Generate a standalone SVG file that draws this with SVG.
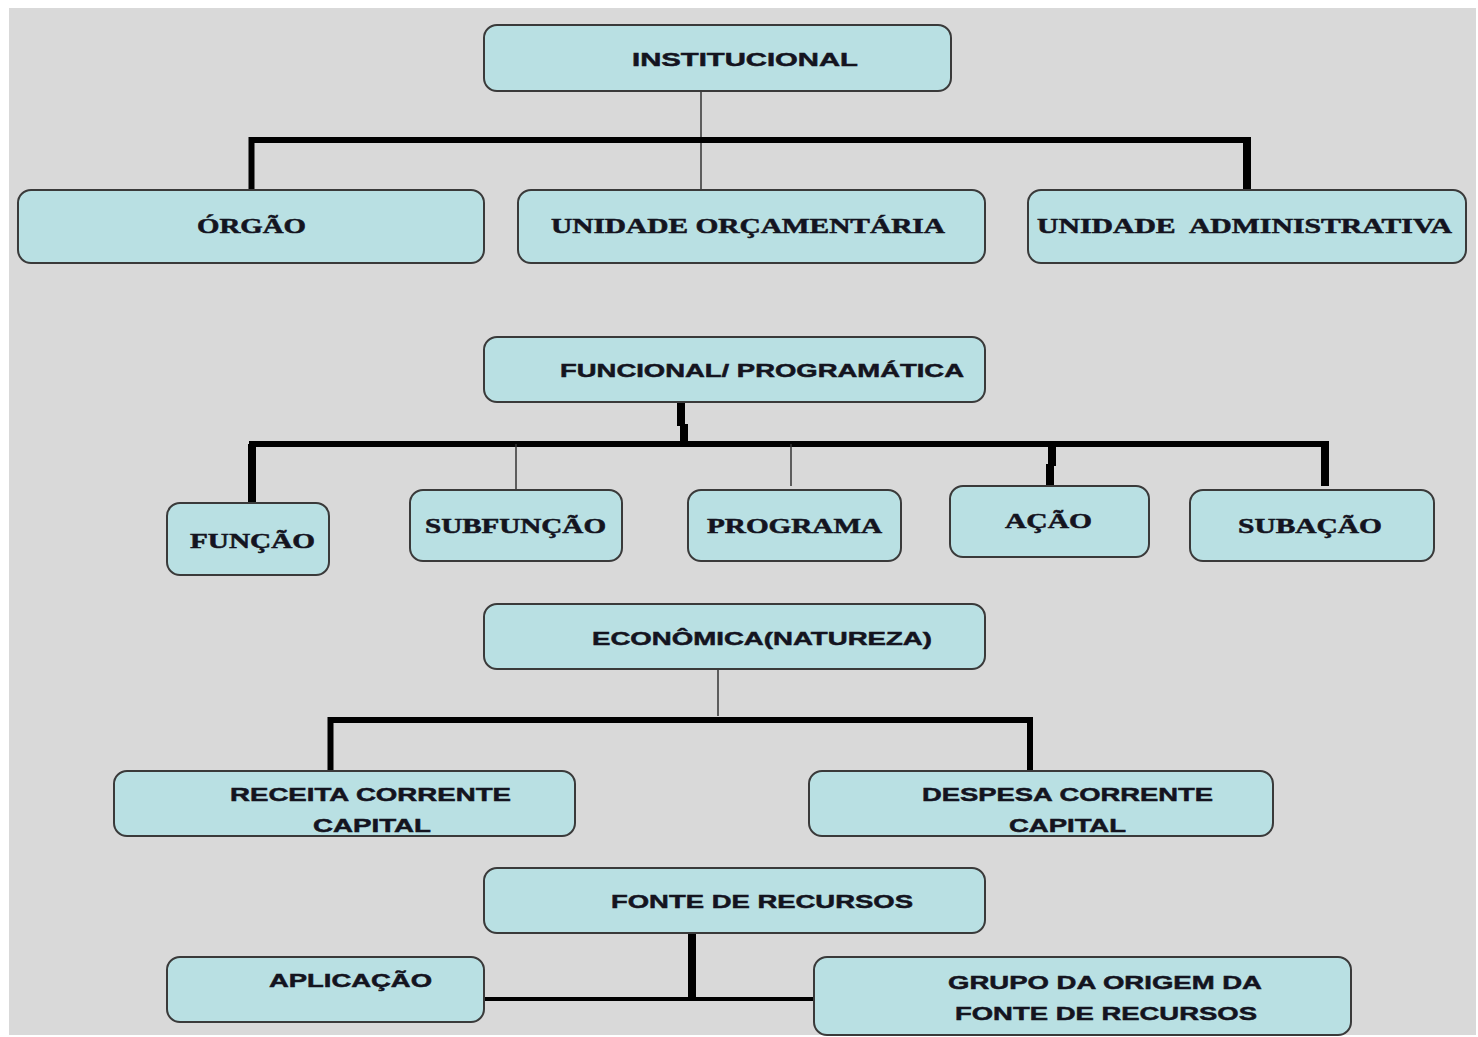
<svg xmlns="http://www.w3.org/2000/svg" width="1478" height="1037" viewBox="0 0 1478 1037">
  <style>
    .box { fill: #b9e0e3; stroke: #3a3a3a; stroke-width: 2; }
    .sans { font-family: "Liberation Sans", Arial, sans-serif; font-weight: bold; font-size: 19px; fill: #14141f; stroke: #14141f; stroke-width: 0.5; }
    .serif { font-family: "Liberation Serif", "Times New Roman", serif; font-weight: bold; font-size: 20px; fill: #14141f; stroke: #14141f; stroke-width: 0.5; }
    .thick { stroke: #000; stroke-width: 8; fill: none; }
    .mid { stroke: #000; stroke-width: 6; fill: none; }
    .thin { stroke: #333; stroke-width: 1.5; fill: none; }
  </style>

  <rect x="0" y="0" width="1478" height="1037" fill="#ffffff"/>
  <rect x="9" y="8" width="1467" height="1027" fill="#d9d9d9"/>

  <!-- connectors -->
  <g id="connectors">
    <!-- institucional -->
    <line class="thin" x1="701" y1="91" x2="701" y2="190"/>
    <path class="mid" d="M251.5 190 V140 H1247"/>
    <path class="thick" d="M1247 137 V190"/>
    <!-- funcional / programática -->
    <path class="thick" d="M681 402 V426"/>
    <path class="thick" d="M684 424 V444"/>
    <path class="mid" d="M249 444 H1329"/>
    <path class="thick" d="M252 444 V503"/>
    <line class="thin" x1="516" y1="444" x2="516" y2="490"/>
    <line class="thin" x1="791" y1="444" x2="791" y2="486"/>
    <path class="thick" d="M1052 444 V466"/>
    <path class="thick" d="M1050 464 V486"/>
    <path class="thick" d="M1325 444 V486"/>
    <!-- econômica -->
    <line class="thin" x1="718" y1="669" x2="718" y2="716"/>
    <path class="mid" d="M330.5 771 V720 H1030 V771"/>
    <!-- fonte de recursos -->
    <path class="thick" d="M692 933 V1000"/>
    <line x1="484" y1="999" x2="814" y2="999" stroke="#000" stroke-width="4"/>
  </g>

  <!-- institucional level -->
  <g id="institucional">
    <rect class="box" x="484" y="25" width="467" height="66" rx="13"/>
    <text class="sans" x="632" y="66" textLength="226" lengthAdjust="spacingAndGlyphs">INSTITUCIONAL</text>
  </g>
  <g id="orgao">
    <rect class="box" x="18" y="190" width="466" height="73" rx="13"/>
    <text class="serif" x="197" y="233" textLength="109" lengthAdjust="spacingAndGlyphs">ÓRGÃO</text>
  </g>
  <g id="unidade-orcamentaria">
    <rect class="box" x="518" y="190" width="467" height="73" rx="13"/>
    <text class="serif" x="551" y="233" textLength="394" lengthAdjust="spacingAndGlyphs">UNIDADE ORÇAMENTÁRIA</text>
  </g>
  <g id="unidade-administrativa">
    <rect class="box" x="1028" y="190" width="438" height="73" rx="13"/>
    <text class="serif" x="1037" y="233" textLength="415" lengthAdjust="spacingAndGlyphs" xml:space="preserve">UNIDADE  ADMINISTRATIVA</text>
  </g>

  <!-- funcional / programática level -->
  <g id="funcional-programatica">
    <rect class="box" x="484" y="337" width="501" height="65" rx="13"/>
    <text class="sans" x="560" y="377" textLength="404" lengthAdjust="spacingAndGlyphs">FUNCIONAL/ PROGRAMÁTICA</text>
  </g>
  <g id="funcao">
    <rect class="box" x="167" y="503" width="162" height="72" rx="13"/>
    <text class="serif" x="190" y="548" textLength="125" lengthAdjust="spacingAndGlyphs">FUNÇÃO</text>
  </g>
  <g id="subfuncao">
    <rect class="box" x="410" y="490" width="212" height="71" rx="13"/>
    <text class="serif" x="425" y="533" textLength="181" lengthAdjust="spacingAndGlyphs">SUBFUNÇÃO</text>
  </g>
  <g id="programa">
    <rect class="box" x="688" y="490" width="213" height="71" rx="13"/>
    <text class="serif" x="707" y="533" textLength="175" lengthAdjust="spacingAndGlyphs">PROGRAMA</text>
  </g>
  <g id="acao">
    <rect class="box" x="950" y="486" width="199" height="71" rx="13"/>
    <text class="serif" x="1005" y="528" textLength="87" lengthAdjust="spacingAndGlyphs">AÇÃO</text>
  </g>
  <g id="subacao">
    <rect class="box" x="1190" y="490" width="244" height="71" rx="13"/>
    <text class="serif" x="1238" y="533" textLength="144" lengthAdjust="spacingAndGlyphs">SUBAÇÃO</text>
  </g>

  <!-- econômica level -->
  <g id="economica">
    <rect class="box" x="484" y="604" width="501" height="65" rx="13"/>
    <text class="sans" x="592" y="645" textLength="340" lengthAdjust="spacingAndGlyphs">ECONÔMICA(NATUREZA)</text>
  </g>
  <g id="receita">
    <rect class="box" x="114" y="771" width="461" height="65" rx="13"/>
    <text class="sans" x="230" y="801" textLength="281" lengthAdjust="spacingAndGlyphs">RECEITA CORRENTE</text>
    <text class="sans" x="313" y="832" textLength="118" lengthAdjust="spacingAndGlyphs">CAPITAL</text>
  </g>
  <g id="despesa">
    <rect class="box" x="809" y="771" width="464" height="65" rx="13"/>
    <text class="sans" x="922" y="801" textLength="291" lengthAdjust="spacingAndGlyphs">DESPESA CORRENTE</text>
    <text class="sans" x="1009" y="832" textLength="117" lengthAdjust="spacingAndGlyphs">CAPITAL</text>
  </g>

  <!-- fonte de recursos level -->
  <g id="fonte-de-recursos">
    <rect class="box" x="484" y="868" width="501" height="65" rx="13"/>
    <text class="sans" x="611" y="908" textLength="302" lengthAdjust="spacingAndGlyphs">FONTE DE RECURSOS</text>
  </g>
  <g id="aplicacao">
    <rect class="box" x="167" y="957" width="317" height="65" rx="13"/>
    <text class="sans" x="269" y="987" textLength="163" lengthAdjust="spacingAndGlyphs">APLICAÇÃO</text>
  </g>
  <g id="grupo-origem">
    <rect class="box" x="814" y="957" width="537" height="78" rx="13"/>
    <text class="sans" x="948" y="989" textLength="314" lengthAdjust="spacingAndGlyphs">GRUPO DA ORIGEM DA</text>
    <text class="sans" x="955" y="1020" textLength="302" lengthAdjust="spacingAndGlyphs">FONTE DE RECURSOS</text>
  </g>
</svg>
